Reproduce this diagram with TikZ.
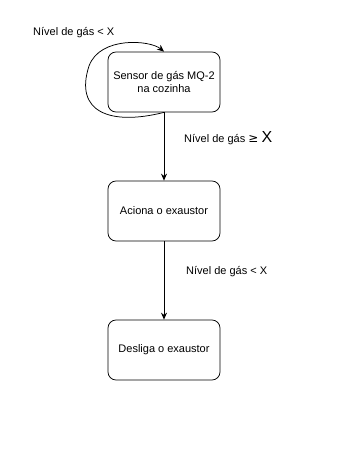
\documentclass[tikz,border=0pt]{standalone}
\usepackage{fontspec}
\setmainfont{Liberation Sans}
\newfontfamily\symfont{DejaVu Sans}
\usetikzlibrary{arrows.meta}
\begin{document}
\begin{tikzpicture}[x=1pt,y=-1pt,
  stepbox/.style={draw, rounded corners=8pt, minimum width=112pt, minimum height=60pt,
    align=center, font=\fontsize{11}{13}\selectfont, line width=0.75pt},
  flow/.style={-{Stealth[length=7pt,width=6pt]}, line width=0.75pt},
  lbl/.style={font=\fontsize{11}{13}\selectfont, inner sep=0pt}]
\useasboundingbox[fill=white] (0,0) rectangle (340,450);
\node[stepbox] (sensor) at (164,82) {Sensor de gás MQ-2\\na cozinha};
\node[stepbox] (aciona) at (164,211) {Aciona o exaustor};
\node[stepbox] (desliga) at (164,350) {Desliga o exaustor};
\draw[flow] (sensor.south) -- (aciona.north);
\draw[flow] (aciona.south) -- (desliga.north);
\draw[flow] (sensor.south) .. controls (110,126) and (74,112) .. (89,66)
  .. controls (100,36) and (150,40) .. (sensor.north);
\node[lbl, anchor=west] (lblhi) at (184,138) {Nível de gás {\fontsize{12}{12}\selectfont\symfont ≥} {\fontsize{16}{16}\selectfont X}};
\node[lbl, anchor=west] (lbllo) at (186,272) {Nível de gás < X};
\node[lbl, anchor=west] (lblloop) at (33,33) {Nível de gás < X};
\end{tikzpicture}
\end{document}
